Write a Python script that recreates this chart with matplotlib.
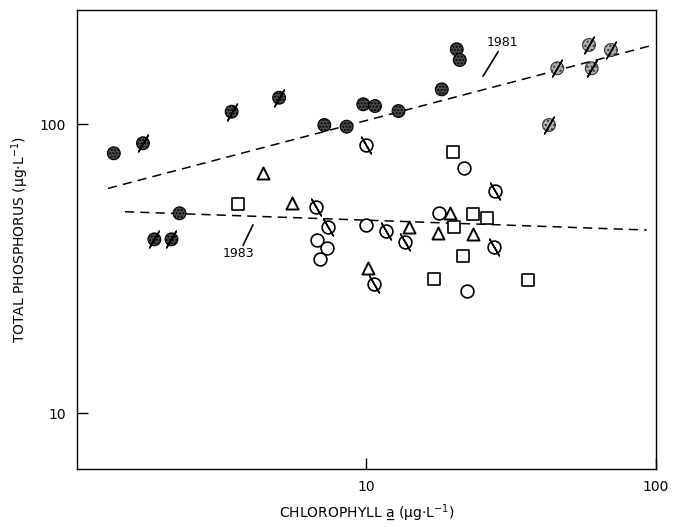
import numpy as np
import matplotlib.pyplot as plt

# chlorophyll a (x) and total phosphorus (y), ug/L
# 1981, dark stippled circles
dark_x = [1.34, 7.15, 8.54, 9.75, 10.7, 12.9, 18.2, 20.5, 21.0, 2.26]
dark_y = [79.2, 99.2, 97.9, 117, 115.4, 110.9, 131.8, 181.4, 166.5, 49.1]
# 1981, dark stippled circles with slash
dark_sl_x = [1.69, 3.42, 4.99, 1.85, 2.12]
dark_sl_y = [85.8, 110.3, 123.3, 39.9, 39.9]
# 1981, light stippled circles with slash
light_sl_x = [58.7, 69.9, 45.6, 60.0, 42.7]
light_sl_y = [187.7, 180.3, 155.9, 155.9, 99.2]
# 1983, open circles with slash
open_sl_x = [10.0, 6.68, 7.38, 27.8, 11.7, 13.6, 27.6, 10.6]
open_sl_y = [84.6, 51.7, 44.1, 58.8, 42.6, 39.1, 37.6, 27.9]
# 1983, open circles
open_x = [6.76, 7.29, 6.91, 10.0, 21.7, 17.8, 22.2]
open_y = [39.7, 37.3, 34.0, 44.7, 70.6, 49.3, 26.5]
# 1983, triangles
tri_x = [4.38, 5.51, 10.1, 14.0, 19.5, 17.7, 23.4]
tri_y = [67.5, 53.4, 31.7, 44.1, 49.1, 41.9, 41.5]
# 1983, squares
sq_x = [3.59, 19.9, 20.1, 23.3, 26.0, 21.5, 17.1, 36.2]
sq_y = [52.8, 80.2, 43.9, 48.7, 47.2, 34.9, 29.0, 28.9]

# fitted lines: log TP = a + b log Chl, drawn from x0 to x1
fit81 = (1.749, 0.2634, 1.28, 97.9)
fit83 = (1.7023, -0.0351, 1.465, 92.9)

fig = plt.figure(figsize=(6.84, 5.27), dpi=100)
ax = fig.add_axes([0.1126, 0.110, 0.8464, 0.871])
ax.set_xscale('log')
ax.set_yscale('log')
ax.set_xlim(1, 100)
ax.set_ylim(6.4, 248)

# regression lines
for a, b, x0, x1 in [fit81, fit83]:
    xs = np.array([x0, x1])
    ax.plot(xs, 10 ** (a + b * np.log10(xs)), color='black', lw=1.1,
            ls=(0, (6, 4)), zorder=1)

circ = 85
slash = 190
ax.scatter(dark_x, dark_y, s=circ, marker='o', facecolor='#4a4a4a',
           edgecolor='black', hatch='.....', lw=0.8, zorder=3)
ax.scatter(dark_sl_x, dark_sl_y, s=circ, marker='o', facecolor='#4a4a4a',
           edgecolor='black', hatch='.....', lw=0.8, zorder=3)
ax.scatter(dark_sl_x, dark_sl_y, s=slash, marker=(2, 2, -30),
           color='black', lw=1.1, zorder=4)
ax.scatter(light_sl_x, light_sl_y, s=circ, marker='o', facecolor='#b0b0b0',
           edgecolor='#333333', hatch='....', lw=0.8, zorder=3)
ax.scatter(light_sl_x, light_sl_y, s=slash, marker=(2, 2, -30),
           color='black', lw=1.1, zorder=4)
ax.scatter(open_sl_x, open_sl_y, s=circ, marker='o', facecolor='white',
           edgecolor='black', lw=1.2, zorder=3)
ax.scatter(open_sl_x, open_sl_y, s=slash, marker=(2, 2, 30),
           color='black', lw=1.1, zorder=4)
ax.scatter(open_x, open_y, s=circ, marker='o', facecolor='white',
           edgecolor='black', lw=1.2, zorder=3)
ax.scatter(tri_x, tri_y, s=75, marker='^', facecolor='white',
           edgecolor='black', lw=1.4, zorder=3)
ax.scatter(sq_x, sq_y, s=70, marker='s', facecolor='white',
           edgecolor='black', lw=1.2, zorder=3)

# line labels
ax.text(29.6, 192, '1981', fontsize=9, ha='center', va='center')
ax.plot([28.5, 25.3], [177.9, 146.6], color='black', lw=1.2)
ax.text(3.6, 35.5, '1983', fontsize=9, ha='center', va='center')
ax.plot([4.05, 3.75], [44.7, 38.1], color='black', lw=1.2)

ax.set_xticks([10, 100])
ax.set_xticklabels(['10', '100'])
ax.set_yticks([10, 100])
ax.set_yticklabels(['10', '100'])
ax.minorticks_off()
ax.tick_params(direction='in', length=8, width=1, labelsize=10, pad=8)

ax.set_xlabel('CHLOROPHYLL a\u0332 (\u03bcg\u00b7L$^{-1}$)', fontsize=10)
ax.set_ylabel('TOTAL PHOSPHORUS (\u03bcg\u00b7L$^{-1}$)', fontsize=10)
ax.xaxis.set_label_coords(0.5, -0.072)
ax.yaxis.set_label_coords(-0.08, 0.5)

for sp in ax.spines.values():
    sp.set_linewidth(1)

fig.savefig('out.png', dpi=100)
